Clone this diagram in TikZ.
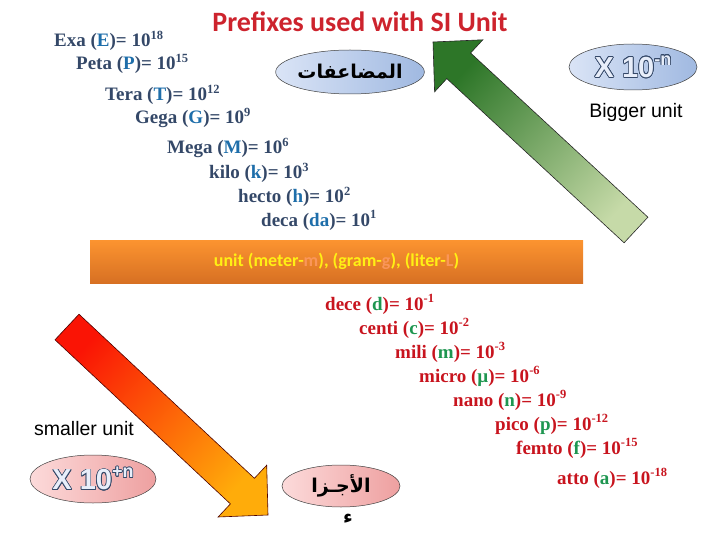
\documentclass[tikz,border=0pt]{standalone}
\usepackage{fontspec}
\setmainfont{Liberation Serif}
\newfontfamily\arialfont{Liberation Sans}
\newfontfamily\calfont{Carlito}
\newfontfamily\arabicfont[Script=Arabic]{DejaVu Sans}
\TeXXeTstate=1
\usepackage{contour}
\contourlength{0.7pt}
\usetikzlibrary{shapes.geometric}

\definecolor{slate}{RGB}{52,72,104}
\definecolor{prefblue}{RGB}{30,110,170}
\definecolor{prefred}{RGB}{200,20,30}
\definecolor{prefgreen}{RGB}{30,150,80}
\definecolor{titlered}{RGB}{205,35,45}
\definecolor{barorange}{RGB}{252,148,48}
\definecolor{bardark}{RGB}{215,112,35}
\definecolor{baryellow}{RGB}{255,240,20}
\definecolor{barpeach}{RGB}{250,150,90}
\definecolor{ellblueA}{RGB}{218,228,246}
\definecolor{ellblueB}{RGB}{160,185,225}
\definecolor{ellpinkA}{RGB}{252,218,218}
\definecolor{ellpinkB}{RGB}{238,160,160}
\definecolor{xfill}{RGB}{232,238,250}
\definecolor{arrgreenA}{RGB}{45,118,40}
\definecolor{arrgreenB}{RGB}{198,218,168}
\definecolor{arrred}{RGB}{250,20,5}
\definecolor{arrorange}{RGB}{255,172,10}

% superscript power, letter colours
\newcommand{\pw}[1]{\raisebox{0.42em}{\fontsize{12.5}{13}\selectfont #1}}
\newcommand{\bl}[1]{\textcolor{prefblue}{#1}}
\newcommand{\gr}[1]{\textcolor{prefgreen}{#1}}
\newcommand{\pe}[1]{\textcolor{barpeach}{#1}}
\newcommand{\xten}[1]{\arialfont\fontsize{29}{31}\selectfont\bfseries\color{xfill}%
  \contour{slate}{X 10\raisebox{0.42em}{\fontsize{18}{18}\selectfont #1}}}

\begin{document}
\begin{tikzpicture}[x=1pt, y=-1pt,
  bigpref/.style={anchor=base west, inner sep=0pt, text=slate,
    font=\fontsize{19}{21}\selectfont\bfseries},
  smallpref/.style={bigpref, text=prefred},
  ell/.style={ellipse, draw=black!75, line width=0.5pt, inner sep=0pt},
  blueell/.style={ell, left color=ellblueA, right color=ellblueB},
  pinkell/.style={ell, left color=ellpinkA, right color=ellpinkB},
  arialtxt/.style={anchor=base, inner sep=0pt, font=\arialfont\fontsize{19.5}{22}\selectfont},
  arabtxt/.style={font=\arabicfont\bfseries\fontsize{19}{21}\selectfont}]
  \useasboundingbox (0,0) rectangle (720,540);

  % block arrows
  \shade[draw=black!85, line width=0.6pt, top color=arrgreenA, bottom color=arrgreenB, shading angle=47]
    (647.9,217.2) -- (470.6,53.0) -- (482.8,39.8) -- (433,42) -- (434.6,91.8) -- (446.8,78.6) -- (624.1,242.8) -- cycle;
  \shade[draw=black!70!red, line width=0.6pt, top color=arrred, bottom color=arrorange, shading angle=47]
    (79.0,314.2) -- (254.4,478.3) -- (266.7,465.2) -- (268,515) -- (218.1,517.0) -- (230.4,503.9) -- (55.0,339.8) -- cycle;

  % title
  \node[anchor=base, inner sep=0pt, text=titlered, font=\calfont\bfseries\fontsize{28}{30}\selectfont]
    (title) at (360,32) {Prefixes used with SI Unit};

  % multiples
  \node[bigpref] (exa) at (54,47) {Exa (\bl{E})= 10\pw{18}};
  \node[bigpref] (peta) at (76,70) {Peta (\bl{P})= 10\pw{15}};
  \node[bigpref] (tera) at (105,101) {Tera (\bl{T})= 10\pw{12}};
  \node[bigpref] (gega) at (135,124) {Gega (\bl{G})= 10\pw{9}};
  \node[bigpref] (mega) at (167,154) {Mega (\bl{M})= 10\pw{6}};
  \node[bigpref] (kilo) at (209,179) {kilo (\bl{k})= 10\pw{3}};
  \node[bigpref] (hecto) at (238,203) {hecto (\bl{h})= 10\pw{2}};
  \node[bigpref] (deca) at (261,226) {deca (\bl{da})= 10\pw{1}};

  % base unit bar
  \node[rectangle, top color=barorange, bottom color=bardark, minimum width=493pt, minimum height=43pt,
    text=baryellow, font=\calfont\bfseries\fontsize{18}{20}\selectfont]
    (unitbar) at (336.5,261.5) {unit (meter-\pe{m}), (gram-\pe{g}), (liter-\pe{L})};

  % submultiples
  \node[smallpref] (dece) at (325,310) {dece (\gr{d})= 10\pw{-1}};
  \node[smallpref] (centi) at (359,334) {centi (\gr{c})= 10\pw{-2}};
  \node[smallpref] (mili) at (395,358) {mili (\gr{m})= 10\pw{-3}};
  \node[smallpref] (micro) at (419,382) {micro (\gr{µ})= 10\pw{-6}};
  \node[smallpref] (nano) at (453,406) {nano (\gr{n})= 10\pw{-9}};
  \node[smallpref] (pico) at (495,430) {pico (\gr{p})= 10\pw{-12}};
  \node[smallpref] (femto) at (516,454) {femto (\gr{f})= 10\pw{-15}};
  \node[smallpref] (atto) at (557,484) {atto (\gr{a})= 10\pw{-18}};

  % ellipses
  \node[blueell, minimum width=125pt, minimum height=44pt, arabtxt] (multell) at (350,72)
    {\beginR المضاعفات\endR};
  \node[blueell, minimum width=128pt, minimum height=46pt] (bigell) at (633,67) {\xten{-n}};
  \node[pinkell, minimum width=126pt, minimum height=48pt] (smallell) at (93,479) {\xten{+n}};
  \node[pinkell, minimum width=118pt, minimum height=42pt, arabtxt] (subell) at (341,486)
    {\beginR الأجـزا\endR};
  \node[arabtxt, inner sep=0pt] (hamza) at (348,519) {\beginR ء\endR};

  % captions
  \node[arialtxt] (bigger) at (636,118) {Bigger unit};
  \node[arialtxt] (smaller) at (84,435) {smaller unit};
\end{tikzpicture}
\end{document}
